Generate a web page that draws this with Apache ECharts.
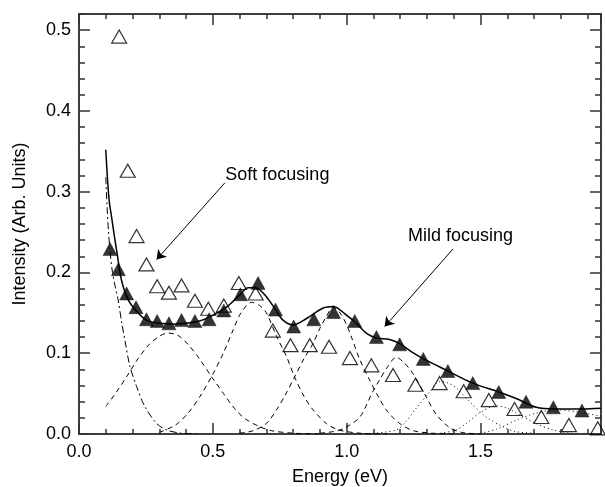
<!DOCTYPE html>
<html><head><meta charset="utf-8">
<script src="https://cdn.jsdelivr.net/npm/echarts@6/dist/echarts.min.js"></script>
<style>html,body{margin:0;padding:0;background:#fff}#c{width:605px;height:487px}</style>
</head><body><div id="c"></div>
<script>
// ---------- data ----------
const xTickLabels = ['0.0', '0.5', '1.0', '1.5'];
const yTickLabels = ['0.0', '0.1', '0.2', '0.3', '0.4', '0.5'];

const filledX = [0.116,0.147,0.178,0.213,0.252,0.292,0.336,0.383,0.433,0.486,0.541,0.603,0.669,0.734,0.802,0.877,0.951,1.030,1.111,1.198,1.286,1.378,1.471,1.568,1.670,1.772,1.879];
const filledY = [0.229,0.204,0.174,0.157,0.142,0.140,0.137,0.141,0.140,0.142,0.153,0.173,0.187,0.154,0.133,0.142,0.151,0.140,0.120,0.111,0.093,0.078,0.063,0.052,0.040,0.033,0.029];

const openX = [0.150,0.182,0.215,0.252,0.292,0.336,0.383,0.433,0.483,0.541,0.597,0.660,0.724,0.790,0.862,0.934,1.012,1.092,1.173,1.257,1.347,1.437,1.531,1.627,1.727,1.830,1.938];
const openY = [0.492,0.326,0.245,0.210,0.183,0.175,0.184,0.165,0.155,0.159,0.187,0.174,0.128,0.110,0.110,0.108,0.094,0.085,0.073,0.061,0.063,0.053,0.042,0.031,0.021,0.011,0.007];

const fitCurve = [[0.100,0.352],[0.106,0.318],[0.113,0.288],[0.122,0.268],[0.133,0.243],[0.143,0.222],[0.159,0.190],[0.184,0.166],[0.215,0.152],[0.252,0.141],[0.30,0.137],[0.35,0.136],[0.40,0.137],[0.45,0.140],[0.489,0.145],[0.551,0.157],[0.60,0.172],[0.632,0.181],[0.66,0.181],[0.70,0.170],[0.734,0.154],[0.762,0.141],[0.80,0.135],[0.85,0.143],[0.912,0.156],[0.951,0.158],[1.00,0.147],[1.03,0.139],[1.073,0.125],[1.111,0.119],[1.16,0.117],[1.198,0.112],[1.25,0.100],[1.287,0.093],[1.372,0.079],[1.471,0.063],[1.568,0.052],[1.633,0.044],[1.708,0.033],[1.78,0.031],[1.88,0.031],[1.95,0.032]];

const decayCurve = [[0.100,0.318],[0.105,0.280],[0.110,0.252],[0.116,0.226],[0.125,0.200],[0.135,0.183],[0.145,0.168],[0.160,0.137],[0.172,0.115],[0.190,0.084],[0.215,0.059],[0.246,0.034],[0.290,0.013],[0.327,0.005],[0.380,0.001],[0.450,0.000]];

const peak1 = [[0.10,0.034],[0.14,0.052],[0.18,0.072],[0.22,0.093],[0.26,0.110],[0.30,0.121],[0.333,0.125],[0.37,0.122],[0.41,0.110],[0.45,0.093],[0.495,0.071],[0.54,0.050],[0.58,0.032],[0.62,0.019],[0.675,0.009],[0.72,0.004],[0.80,0.001],[0.90,0.000]];
const peak2 = [[0.30,0.002],[0.36,0.011],[0.408,0.026],[0.451,0.046],[0.495,0.071],[0.539,0.100],[0.576,0.129],[0.605,0.150],[0.645,0.163],[0.675,0.159],[0.70,0.150],[0.738,0.121],[0.775,0.096],[0.806,0.070],[0.84,0.047],[0.874,0.030],[0.924,0.013],[0.97,0.005],[1.05,0.001],[1.15,0.000]];
const peak3 = [[0.60,0.001],[0.65,0.004],[0.70,0.013],[0.738,0.030],[0.77,0.048],[0.806,0.071],[0.84,0.093],[0.874,0.112],[0.90,0.131],[0.925,0.146],[0.948,0.157],[0.975,0.150],[1.00,0.135],[1.02,0.118],[1.049,0.092],[1.084,0.068],[1.12,0.045],[1.152,0.028],[1.198,0.013],[1.25,0.004],[1.32,0.001],[1.40,0.000]];
const peak4 = [[0.90,0.001],[0.95,0.003],[0.99,0.007],[1.049,0.021],[1.098,0.053],[1.123,0.067],[1.15,0.082],[1.185,0.095],[1.215,0.088],[1.247,0.075],[1.275,0.059],[1.297,0.046],[1.335,0.024],[1.384,0.008],[1.43,0.002],[1.50,0.000]];
const peak5 = [[1.10,0.001],[1.185,0.005],[1.22,0.015],[1.26,0.032],[1.31,0.052],[1.347,0.065],[1.38,0.063],[1.409,0.057],[1.459,0.040],[1.521,0.021],[1.583,0.009],[1.63,0.003],[1.70,0.001]];
const peak6 = [[1.35,0.001],[1.409,0.005],[1.45,0.014],[1.496,0.026],[1.558,0.035],[1.60,0.032],[1.633,0.026],[1.708,0.013],[1.77,0.005],[1.84,0.001]];
const peak7 = [[1.50,0.001],[1.56,0.006],[1.633,0.017],[1.70,0.025],[1.78,0.030],[1.87,0.027],[1.95,0.022]];

const notes = [
  {text: 'Soft focusing', at: [0.741, 0.321], from: [0.545, 0.311], to: [0.290, 0.216]},
  {text: 'Mild focusing', at: [1.425, 0.245], from: [1.397, 0.229], to: [1.142, 0.133]}
];

// ---------- chart ----------
const FONT = '"Liberation Sans", Arial, Helvetica, sans-serif';
const AX = '#333';
const X_MIN = 0, X_MAX = 1.95, Y_MIN = 0, Y_MAX = 0.52;

function labelFrom(list, step) {
  return function (v) {
    const i = Math.round(v / step);
    if (Math.abs(v - i * step) > 1e-6) return '';
    return list[i] !== undefined ? list[i] : '';
  };
}

function axis(kind, pos, interval, tickLen, showLabel, extra) {
  const isX = kind === 'x';
  return Object.assign({
    type: 'value', position: pos,
    min: isX ? X_MIN : Y_MIN, max: isX ? X_MAX : Y_MAX, interval: interval,
    axisLine: {show: true, onZero: false, lineStyle: {color: AX, width: 1.5}},
    axisTick: {show: true, inside: true, length: tickLen, lineStyle: {color: AX, width: 1.5}},
    axisLabel: {show: showLabel, showMaxLabel: false, color: '#000', fontSize: 18, fontFamily: FONT,
      margin: isX ? 9 : 8,
      formatter: isX ? labelFrom(xTickLabels, 0.5) : labelFrom(yTickLabels, 0.1)},
    splitLine: {show: false}, minorTick: {show: false}
  }, extra || {});
}

const chart = echarts.init(document.getElementById('c'), null, {renderer: 'canvas'});

function curve(data, type, width) {
  return {type: 'line', data: data, symbol: 'none', smooth: 0.3, silent: true, z: 2,
    lineStyle: {color: '#000', width: width, type: type}};
}

const option = {
  animation: false,
  backgroundColor: '#fff',
  grid: {left: 79, right: 4, top: 14, bottom: 53, containLabel: false, outerBoundsMode: 'none'},
  xAxis: [
    axis('x', 'bottom', 0.5, 11, true, {name: 'Energy (eV)', nameLocation: 'middle', nameGap: 34,
      nameTextStyle: {color: '#000', fontSize: 18, fontFamily: FONT}}),
    axis('x', 'bottom', 0.1, 5, false),
    axis('x', 'top', 0.5, 11, false),
    axis('x', 'top', 0.1, 5, false)
  ],
  yAxis: [
    axis('y', 'left', 0.1, 11, true, {name: 'Intensity (Arb. Units)', nameLocation: 'middle', nameGap: 50,
      nameTextStyle: {color: '#000', fontSize: 18, fontFamily: FONT}}),
    axis('y', 'left', 0.02, 6, false),
    axis('y', 'right', 0.1, 11, false),
    axis('y', 'right', 0.02, 6, false)
  ],
  series: [
    curve(decayCurve, [7, 3, 2, 3], 1),
    curve(peak1, [5, 4], 1),
    curve(peak2, [5, 4], 1),
    curve(peak3, [5, 4], 1),
    curve(peak4, [5, 4], 1),
    curve(peak5, [1, 3], 1),
    curve(peak6, [1, 3], 1),
    curve(peak7, [1, 3], 1),
    Object.assign(curve(fitCurve, 'solid', 1.5), {
      markLine: {
        silent: true, symbol: ['none', 'arrow'], symbolSize: 9,
        label: {show: false},
        lineStyle: {color: '#000', width: 1, type: 'solid'},
        data: notes.map(n => [{coord: n.from}, {coord: n.to}])
      }
    }),
    {type: 'scatter', z: 3, data: openX.map((x, i) => [x, openY[i]]), symbol: 'triangle', symbolSize: [15, 13],
      itemStyle: {color: 'rgba(255,255,255,0)', borderColor: '#000', borderWidth: 1.2}},
    {type: 'scatter', z: 4, data: filledX.map((x, i) => [x, filledY[i]]), symbol: 'triangle', symbolSize: [14, 13],
      itemStyle: {color: '#000', borderColor: '#000', borderWidth: 0.5}}
  ]
};
chart.setOption(option);

chart.setOption({
  graphic: notes.map(n => {
    const p = chart.convertToPixel({gridIndex: 0}, n.at);
    return {type: 'text', x: p[0], y: p[1], silent: true,
      style: {text: n.text, font: '18px ' + FONT, fill: '#000', align: 'center', verticalAlign: 'middle'}};
  })
});
</script></body></html>
